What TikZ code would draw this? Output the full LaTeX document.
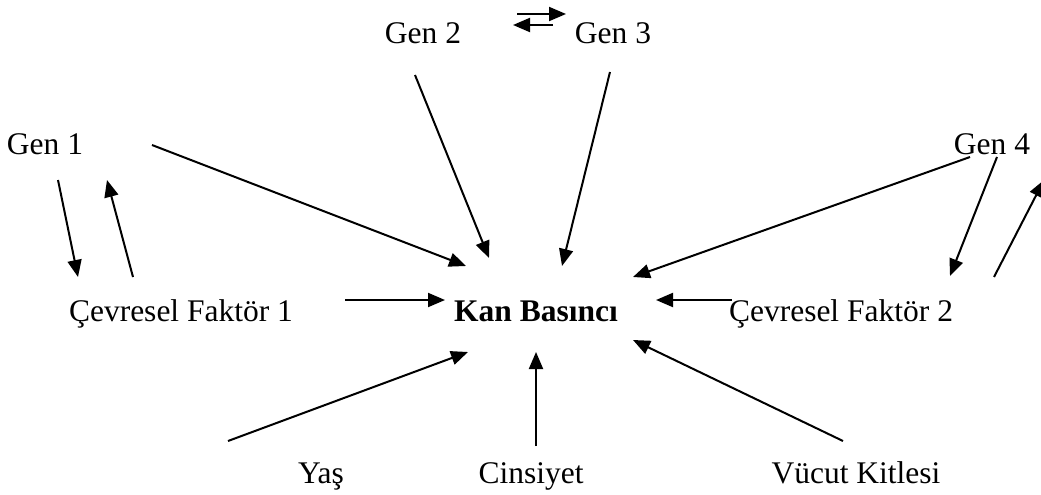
\documentclass[tikz,border=0pt]{standalone}
\usepackage{fontspec}
\setmainfont{Liberation Serif}
\usetikzlibrary{arrows.meta}
\begin{document}
\begin{tikzpicture}[x=1pt,y=-1pt,
  lbl/.style={font=\fontsize{31.5}{38}\selectfont, inner sep=0pt, anchor=base},
  arr/.style={line width=2pt, -{Triangle[length=17pt,width=14pt]}}]
\useasboundingbox (0,0) rectangle (1041,495);
% labels (placed by baseline)
\node[lbl] (g2) at (423,44) {Gen 2};
\node[lbl] (g3) at (613,44) {Gen 3};
\node[lbl] (g1) at (45,154) {Gen 1};
\node[lbl] (g4) at (992,154) {Gen 4};
\node[lbl] (cf1) at (181,321) {Çevresel Faktör 1};
\node[lbl, font=\fontsize{31.5}{38}\selectfont\bfseries] (kb) at (536,321) {Kan Basıncı};
\node[lbl] (cf2) at (841,321) {Çevresel Faktör 2};
\node[lbl] (yas) at (321,483) {Yaş};
\node[lbl] (cin) at (531,483) {Cinsiyet};
\node[lbl] (vk) at (856,483) {Vücut Kitlesi};
% connector end points
\coordinate (a1s) at (517,14);  \coordinate (a1e) at (566,14);
\coordinate (a2s) at (553,25);  \coordinate (a2e) at (513,25);
\coordinate (g2s) at (415,75);  \coordinate (g2e) at (489,258);
\coordinate (g3s) at (610,72);  \coordinate (g3e) at (562,266);
\coordinate (g1s) at (152,145); \coordinate (g1e) at (466,266);
\coordinate (g4s) at (970,157); \coordinate (g4e) at (633,277);
\coordinate (d1s) at (58,180);  \coordinate (d1e) at (78,277);
\coordinate (u1s) at (133,277); \coordinate (u1e) at (107,180);
\coordinate (d4s) at (997,157); \coordinate (d4e) at (950,276);
\coordinate (u4s) at (994,277); \coordinate (u4e) at (1044,180);
\coordinate (c1s) at (345,300); \coordinate (c1e) at (445,300);
\coordinate (c2s) at (732,300); \coordinate (c2e) at (656,300);
\coordinate (ys) at (228,441);  \coordinate (ye) at (468,352);
\coordinate (cs) at (536,446);  \coordinate (ce) at (536,352);
\coordinate (vs) at (843,441);  \coordinate (ve) at (633,340);
% connectors
\draw[arr] (a1s) -- (a1e);
\draw[arr] (a2s) -- (a2e);
\draw[arr] (g2s) -- (g2e);
\draw[arr] (g3s) -- (g3e);
\draw[arr] (g1s) -- (g1e);
\draw[arr] (g4s) -- (g4e);
\draw[arr] (d1s) -- (d1e);
\draw[arr] (u1s) -- (u1e);
\draw[arr] (d4s) -- (d4e);
\draw[arr] (u4s) -- (u4e);
\draw[arr] (c1s) -- (c1e);
\draw[arr] (c2s) -- (c2e);
\draw[arr] (ys) -- (ye);
\draw[arr] (cs) -- (ce);
\draw[arr] (vs) -- (ve);
\end{tikzpicture}
\end{document}
